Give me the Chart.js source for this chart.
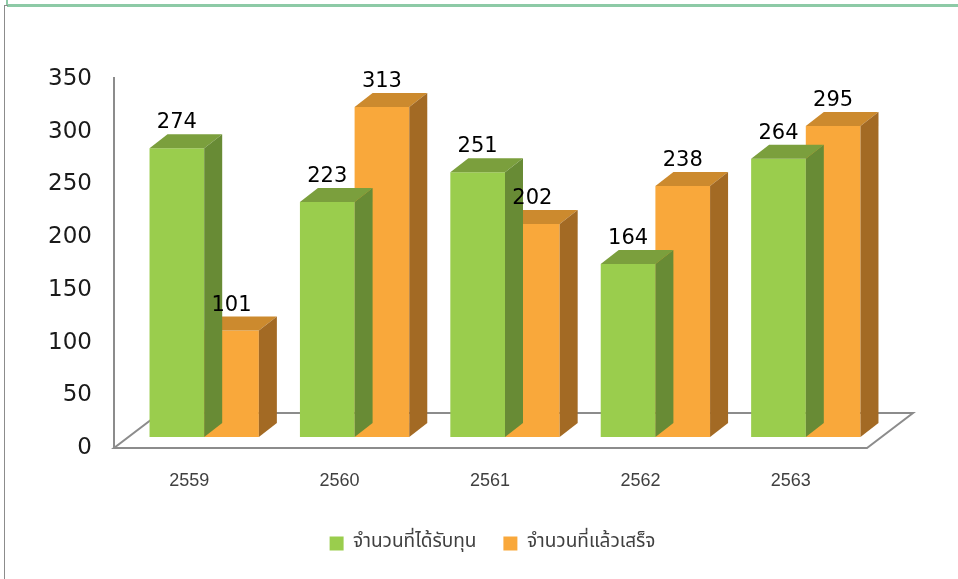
<!DOCTYPE html>
<html>
<head>
<meta charset="utf-8">
<title>จำนวนทุน 2559-2563</title>
<script src="https://cdn.jsdelivr.net/npm/chart.js@4.4.1/dist/chart.umd.min.js"></script>
<style>
  html, body { margin: 0; padding: 0; background: #fff; }
  #wrap { position: relative; width: 958px; height: 579px; overflow: hidden; }
  #chart { position: absolute; left: 0; top: 0; }
  .edge { position: absolute; }
  #greenTop { left: 7px; top: 4px; width: 951px; height: 3px; background: #8dcaa6; }
  #greenStub { left: 6px; top: 0; width: 2px; height: 5px; background: #8dcaa6; }
  #grayLeft { left: 4px; top: 5px; width: 1px; height: 574px; background: #8c8c8c; }
  #grayStub { left: 4px; top: 5px; width: 4px; height: 1px; background: #8c8c8c; }
</style>
</head>
<body>
<div id="wrap">
  <div class="edge" id="greenTop"></div>
  <div class="edge" id="greenStub"></div>
  <div class="edge" id="grayLeft"></div>
  <div class="edge" id="grayStub"></div>
  <canvas id="chart" width="958" height="579"></canvas>
</div>
<script>
const years = ["2559", "2560", "2561", "2562", "2563"];
const granted = [274, 223, 251, 164, 264];
const finished = [101, 313, 202, 238, 295];
const seriesNames = ["จำนวนที่ได้รับทุน", "จำนวนที่แล้วเสร็จ"];
const yTicks = [0, 50, 100, 150, 200, 250, 300, 350];

// front / top / side shades for the fake 3D boxes
const greenShades = ["#9acd4d", "#7b9f3d", "#688b35"];
const orangeShades = ["#f9a83b", "#cc8a2e", "#a36a24"];
const depthX = 18;
const depthY = 14;

const bar3d = {
  id: "bar3d",
  afterLayout(chart) {
    // legend in the original is centred under the plot, not the whole canvas
    const lg = chart.legend;
    if (lg) lg.left = chart.chartArea.left - 25;
  },
  beforeDatasetsDraw(chart) {
    const ctx = chart.ctx;
    const a = chart.chartArea;
    ctx.save();
    ctx.strokeStyle = "#8c8c8c";
    ctx.lineWidth = 2;
    // left wall edge
    ctx.beginPath();
    ctx.moveTo(a.left - 15, a.top + 9);
    ctx.lineTo(a.left - 15, a.bottom + 11);
    ctx.stroke();
    // floor
    ctx.fillStyle = "#fff";
    ctx.beginPath();
    ctx.moveTo(a.left - 15, a.bottom + 11);
    ctx.lineTo(a.right - 14, a.bottom + 11);
    ctx.lineTo(a.right + 32, a.bottom - 24);
    ctx.lineTo(a.left + 31, a.bottom - 24);
    ctx.closePath();
    ctx.fill();
    ctx.stroke();
    ctx.restore();
  },
  afterDatasetDraw(chart, args) {
    const ctx = chart.ctx;
    const shades = args.index === 0 ? greenShades : orangeShades;
    ctx.save();
    args.meta.data.forEach(bar => {
      const l = bar.x - bar.width / 2;
      const r = bar.x + bar.width / 2;
      const t = bar.y;
      const b = bar.base;
      // top face
      ctx.fillStyle = shades[1];
      ctx.beginPath();
      ctx.moveTo(l, t);
      ctx.lineTo(r, t);
      ctx.lineTo(r + depthX, t - depthY);
      ctx.lineTo(l + depthX, t - depthY);
      ctx.closePath();
      ctx.fill();
      // side face
      ctx.fillStyle = shades[2];
      ctx.beginPath();
      ctx.moveTo(r, t);
      ctx.lineTo(r + depthX, t - depthY);
      ctx.lineTo(r + depthX, b - depthY);
      ctx.lineTo(r, b);
      ctx.closePath();
      ctx.fill();
    });
    ctx.restore();
  },
  afterDatasetsDraw(chart) {
    const ctx = chart.ctx;
    ctx.save();
    ctx.fillStyle = "#000";
    ctx.font = "21px 'DejaVu Sans'";
    ctx.textAlign = "center";
    ctx.textBaseline = "alphabetic";
    chart.data.datasets.forEach((ds, i) => {
      chart.getDatasetMeta(i).data.forEach((bar, j) => {
        ctx.fillText(String(ds.data[j]), bar.x, bar.y - 20);
      });
    });
    ctx.restore();
  }
};

new Chart(document.getElementById("chart"), {
  type: "bar",
  data: {
    labels: years,
    datasets: [
      {
        label: seriesNames[0],
        data: granted,
        backgroundColor: greenShades[0],
        borderWidth: 0
      },
      {
        label: seriesNames[1],
        data: finished,
        backgroundColor: orangeShades[0],
        borderWidth: 0
      }
    ]
  },
  options: {
    responsive: false,
    animation: false,
    layout: {
      padding: { left: 0, right: 77, top: 68, bottom: 16 }
    },
    datasets: {
      bar: {
        barPercentage: 1,
        categoryPercentage: 0.727
      }
    },
    scales: {
      x: {
        grid: { display: false, drawTicks: false },
        border: { display: false },
        ticks: {
          color: "#404040",
          padding: 33,
          labelOffset: -15,
          font: { family: "'Liberation Sans', Arial", size: 18 }
        },
        afterFit: s => { s.height = 70; }
      },
      y: {
        min: yTicks[0],
        max: yTicks[yTicks.length - 1],
        grid: { display: false, drawTicks: false },
        border: { display: false },
        ticks: {
          stepSize: yTicks[1] - yTicks[0],
          color: "#1a1a1a",
          padding: 37,
          labelOffset: 11,
          font: { family: "'DejaVu Sans'", size: 23 }
        },
        afterFit: s => { s.width = 129; }
      }
    },
    plugins: {
      legend: {
        position: "bottom",
        labels: {
          boxWidth: 14,
          boxHeight: 14,
          padding: 27,
          color: "#404040",
          font: { family: "'Noto Sans Thai', Tahoma, 'DejaVu Sans', sans-serif", size: 19 }
        }
      },
      tooltip: { enabled: false }
    }
  },
  plugins: [bar3d]
});
</script>
</body>
</html>
